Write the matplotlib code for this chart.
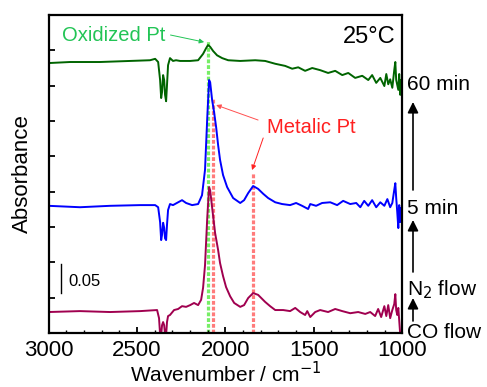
import numpy as np
import matplotlib.pyplot as plt

plt.rcParams['font.family'] = ['Liberation Sans', 'DejaVu Sans']

# 60 min N2 flow (green)
wn_60 = [3000, 2878, 2709, 2539, 2426, 2397, 2380, 2369, 2363, 2358, 2352, 2346, 2341, 2335,
         2330, 2324, 2313, 2296, 2279, 2256, 2199, 2154, 2126, 2109, 2098, 2086, 2069, 2047,
         2018, 1984, 1916, 1831, 1775, 1718, 1662, 1622, 1588, 1549, 1509, 1464, 1419, 1379,
         1339, 1305, 1266, 1226, 1192, 1170, 1147, 1124, 1101, 1090, 1079, 1068, 1056, 1045,
         1039, 1034, 1022, 1017, 1011, 1006, 1000]
abs_60 = [0.382, 0.3835, 0.3835, 0.385, 0.386, 0.388, 0.3835, 0.358, 0.3325, 0.341, 0.365, 0.358,
          0.337, 0.328, 0.351, 0.379, 0.389, 0.385, 0.386, 0.385, 0.385, 0.386, 0.395, 0.403,
          0.4075, 0.405, 0.399, 0.393, 0.389, 0.386, 0.385, 0.386, 0.385, 0.381, 0.378, 0.374,
          0.376, 0.371, 0.375, 0.372, 0.368, 0.371, 0.365, 0.368, 0.361, 0.364, 0.358, 0.365,
          0.354, 0.361, 0.3495, 0.3665, 0.352, 0.359, 0.347, 0.372, 0.3835, 0.358, 0.344,
          0.3665, 0.337, 0.358, 0.3495]

# 5 min N2 flow (blue)
wn_5 = [3000, 2822, 2652, 2482, 2397, 2380, 2369, 2363, 2358, 2352, 2346, 2341, 2335, 2330,
        2324, 2313, 2296, 2267, 2245, 2222, 2188, 2154, 2132, 2115, 2103, 2092, 2086, 2075,
        2064, 2052, 2041, 2030, 2013, 1990, 1956, 1916, 1894, 1871, 1843, 1815, 1786, 1758,
        1718, 1679, 1634, 1600, 1566, 1532, 1520, 1487, 1453, 1407, 1368, 1334, 1294, 1260,
        1237, 1215, 1192, 1170, 1147, 1124, 1101, 1084, 1068, 1056, 1045, 1039, 1034, 1028,
        1022, 1017, 1011, 1006, 1000]
abs_5 = [0.180, 0.178, 0.180, 0.181, 0.181, 0.178, 0.157, 0.1315, 0.139, 0.156, 0.149, 0.134,
         0.1315, 0.153, 0.174, 0.1825, 0.181, 0.185, 0.188, 0.184, 0.181, 0.1825, 0.195, 0.231,
         0.301, 0.358, 0.355, 0.330, 0.313, 0.291, 0.266, 0.245, 0.2235, 0.2065, 0.191, 0.184,
         0.188, 0.198, 0.208, 0.204, 0.197, 0.191, 0.185, 0.1825, 0.181, 0.184, 0.180, 0.1755,
         0.1825, 0.180, 0.184, 0.185, 0.181, 0.187, 0.1825, 0.184, 0.178, 0.187, 0.180, 0.188,
         0.178, 0.185, 0.180, 0.1895, 0.178, 0.184, 0.2025, 0.212, 0.191, 0.171, 0.1485, 0.181,
         0.157, 0.177, 0.167]

# CO flow (purple)
wn_co = [3000, 2822, 2652, 2482, 2386, 2375, 2369, 2363, 2358, 2352, 2346, 2341, 2335, 2330,
         2324, 2313, 2290, 2267, 2245, 2222, 2199, 2177, 2154, 2137, 2126, 2115, 2103, 2092,
         2086, 2075, 2058, 2041, 2030, 2013, 1996, 1973, 1950, 1916, 1894, 1871, 1843, 1815,
         1775, 1747, 1718, 1673, 1634, 1605, 1577, 1549, 1537, 1520, 1492, 1464, 1419, 1379,
         1339, 1294, 1249, 1209, 1181, 1153, 1136, 1119, 1101, 1090, 1079, 1068, 1056, 1045,
         1039, 1034, 1028, 1022, 1017, 1011, 1000]
abs_co = [0.0297, 0.031, 0.0297, 0.031, 0.0325, 0.021, -0.002, -0.003, 0.011, 0.0155, 0.011,
          -0.002, -0.003, 0.0155, 0.024, 0.0255, 0.0325, 0.034, 0.038, 0.037, 0.0395, 0.0425,
          0.0395, 0.047, 0.064, 0.096, 0.160, 0.2065, 0.202, 0.178, 0.1415, 0.1175, 0.099,
          0.0805, 0.065, 0.052, 0.0425, 0.037, 0.0395, 0.0495, 0.0565, 0.054, 0.044, 0.038,
          0.0325, 0.0325, 0.031, 0.0355, 0.0297, 0.0255, 0.031, 0.0226, 0.0297, 0.0325, 0.0297,
          0.034, 0.031, 0.028, 0.0297, 0.027, 0.0297, 0.024, 0.034, 0.0226, 0.038, 0.024,
          0.0395, 0.021, 0.0325, 0.041, 0.055, 0.0325, 0.0255, 0.0355, 0.018, -0.003, -0.003]

# marker lines: (wavenumber, top)
oxidized_wn, oxidized_top = 2098, 0.413
metalic_wn = [2069, 1843]
metalic_top = [0.331, 0.228]

fig = plt.figure(figsize=(4.87, 3.87), dpi=100)
ax = fig.add_axes([0.0996, 0.1395, 0.7263, 0.8217])

ax.plot([oxidized_wn, oxidized_wn], [0, oxidized_top], color='#77ee66', lw=2.3,
        ls=(0, (1.2, 0.6)), zorder=1)
for w, t in zip(metalic_wn, metalic_top):
    ax.plot([w, w], [0, t], color='#ff7b7b', lw=2.3, ls=(0, (1.2, 0.6)), zorder=1)

ax.plot(wn_60, abs_60, color='#006400', lw=1.4, zorder=2)
ax.plot(wn_5, abs_5, color='#0000ff', lw=1.4, zorder=2)
ax.plot(wn_co, abs_co, color='#a0004f', lw=1.4, zorder=2)

ax.set_xlim(3000, 1000)
ax.set_ylim(0, 0.45)
ax.set_xticks([3000, 2500, 2000, 1500, 1000])
ax.set_xticks(np.arange(1000, 3001, 100), minor=True)
ax.set_yticks(np.arange(0.05, 0.45, 0.05))
ax.set_yticklabels([])
ax.tick_params(axis='x', which='major', direction='in', length=4, width=1.3,
               labelsize=16, pad=5, top=False)
ax.tick_params(axis='x', which='minor', direction='in', length=2.5, width=1.0, top=False)
ax.tick_params(axis='y', direction='in', length=4, width=1.3, right=False)
for s in ax.spines.values():
    s.set_linewidth(1.6)

ax.set_xlabel('Wavenumber / cm$^{-1}$', fontsize=15, labelpad=0)
ax.set_ylabel('Absorbance', fontsize=16, labelpad=8)

# scale bar
ax.plot([2929, 2929], [0.0565, 0.0976], color='black', lw=1.0)
ax.text(2890, 0.0736, '0.05', fontsize=12, va='center', ha='left')

ax.text(0.98, 0.965, '25°C', transform=ax.transAxes, fontsize=17, ha='right', va='top')

ax.annotate('Oxidized Pt', xy=(2120, 0.4117), xytext=(2924, 0.4217), fontsize=14.5,
            color='#22c455', va='center', ha='left',
            arrowprops=dict(arrowstyle='-|>', color='#22c455', lw=0.7, mutation_scale=7,
                            shrinkA=0, shrinkB=0, relpos=(1.05, 0.5)))
ax.text(1764, 0.2915, 'Metalic Pt', fontsize=14.5, color='#ff2020', va='center', ha='left')
ax.annotate('', xy=(2052, 0.3226), xytext=(1815, 0.3014),
            arrowprops=dict(arrowstyle='-|>', color='#ff5050', lw=0.7, mutation_scale=7,
                            shrinkA=0, shrinkB=0))
ax.annotate('', xy=(1849, 0.2306), xytext=(1786, 0.276),
            arrowprops=dict(arrowstyle='-|>', color='#ff2020', lw=0.7, mutation_scale=7,
                            shrinkA=0, shrinkB=0))

# right side flow labels and arrows
H = 387
side_labels = ['60 min', '5 min', 'N$_2$ flow', 'CO flow']
side_y = [85, 208, 290, 333]
for lab, y in zip(side_labels, side_y):
    fig.text(407 / 487, 1 - y / H, lab, fontsize=15, va='center', ha='left')
for y0, y1 in [(190, 102), (272, 220), (321, 298)]:
    ax.annotate('', xy=(413, H - y1), xytext=(413, H - y0), xycoords='figure pixels',
                textcoords='figure pixels', annotation_clip=False,
                arrowprops=dict(arrowstyle='-|>', color='black', lw=1.2, mutation_scale=16,
                                shrinkA=0, shrinkB=0))

fig.savefig('out.png', dpi=100)
